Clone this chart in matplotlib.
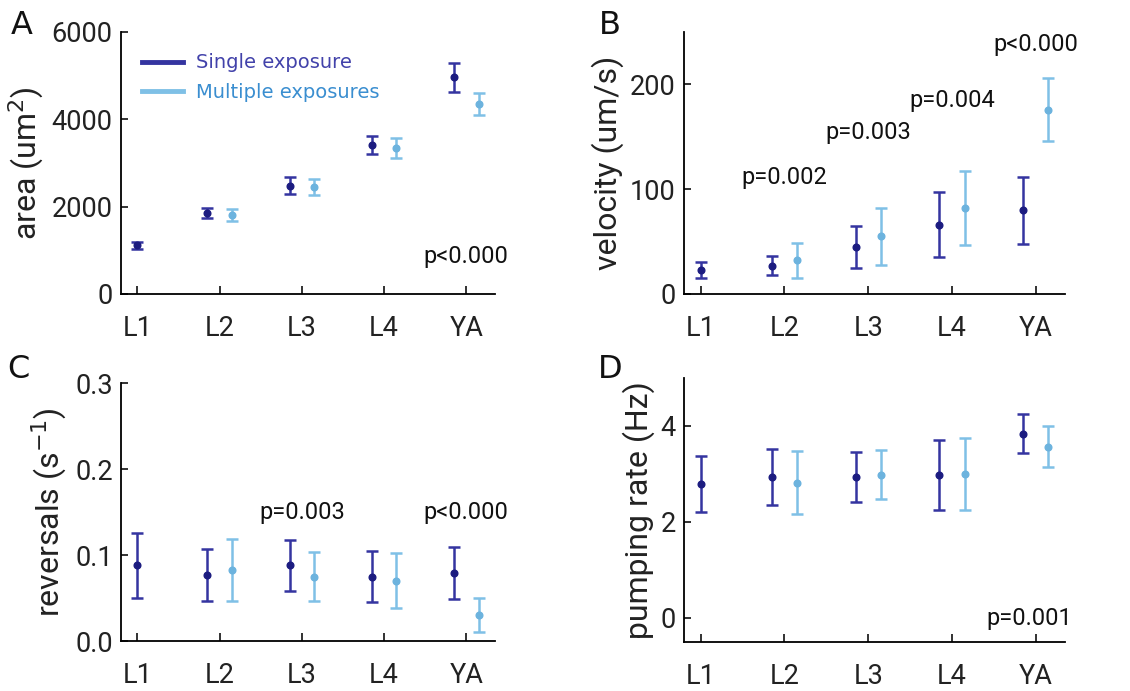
import numpy as np
import matplotlib
matplotlib.use("Agg")
import matplotlib.pyplot as plt
from matplotlib.lines import Line2D

plt.rcParams["font.family"] = ["Roboto", "DejaVu Sans"]

stages = ["L1", "L2", "L3", "L4", "YA"]

# A: area
area_single = [1120, 1850, 2480, 3410, 4960]
area_single_err = [80, 120, 190, 210, 330]
area_multi = [np.nan, 1810, 2450, 3350, 4350]
area_multi_err = [np.nan, 130, 180, 230, 260]

# B: velocity
vel_single = [23, 27, 45, 66, 80]
vel_single_err = [8, 9, 20, 31, 32]
vel_multi = [np.nan, 32, 55, 82, 176]
vel_multi_err = [np.nan, 17, 27, 35, 30]

# C: reversals
rev_single = [0.088, 0.077, 0.088, 0.075, 0.079]
rev_single_err = [0.0375, 0.030, 0.030, 0.030, 0.030]
rev_multi = [np.nan, 0.083, 0.075, 0.070, 0.030]
rev_multi_err = [np.nan, 0.036, 0.029, 0.032, 0.020]

# D: pumping rate
pump_single = [2.79, 2.94, 2.93, 2.98, 3.84]
pump_single_err = [0.58, 0.585, 0.52, 0.73, 0.41]
pump_multi = [np.nan, 2.82, 2.98, 3.00, 3.57]
pump_multi_err = [np.nan, 0.65, 0.51, 0.74, 0.42]

pvals_A = [("p<0.000", 4, 850)]
pvals_B = [("p=0.002", 1, 111), ("p=0.003", 2, 154), ("p=0.004", 3, 185), ("p<0.000", 4, 238)]
pvals_C = [("p=0.003", 2, 0.15), ("p<0.000", 4, 0.15)]
pvals_D = [("p=0.001", 3.92, 0.0)]

dark_line = "#3434a0"
dark_dot = "#1c1c80"
light_line = "#7fc0e6"
light_dot = "#6cb3de"

fig = plt.figure(figsize=(11.3, 6.91), dpi=100)
W, H = 1130, 691


def make_ax(l, r, t, b):
    return fig.add_axes([l / W, 1 - b / H, (r - l) / W, (b - t) / H])


axA = make_ax(121, 495, 32, 294)
axB = make_ax(684, 1065, 32, 294)
axC = make_ax(121, 495, 383, 641)
axD = make_ax(684, 1065, 378, 642)


def draw(ax, single, single_err, multi, multi_err, ylim, yticks, ylabel, pvals, ytl=None):
    x = np.arange(len(stages))
    xs = np.array([0 if i == 0 else i - 0.15 for i in x], dtype=float)
    xm = x + 0.15
    ax.errorbar(xs, single, yerr=single_err, fmt="none", ecolor=dark_line,
                elinewidth=1.8, capsize=4, capthick=1.8)
    ax.plot(xs, single, "o", color=dark_dot, ms=4.8, zorder=3)
    m = ~np.isnan(np.array(multi, dtype=float))
    ax.errorbar(xm[m], np.array(multi)[m], yerr=np.array(multi_err)[m], fmt="none",
                ecolor=light_line, elinewidth=1.8, capsize=4, capthick=1.8)
    ax.plot(xm[m], np.array(multi)[m], "o", color=light_dot, ms=4.8, zorder=3)
    ax.set_xlim(-0.2, 4.35)
    ax.set_ylim(*ylim)
    ax.set_xticks(x)
    ax.set_xticklabels(stages)
    ax.set_yticks(yticks)
    if ytl is not None:
        ax.set_yticklabels(ytl)
    ax.spines["top"].set_visible(False)
    ax.spines["right"].set_visible(False)
    ax.spines["left"].set_linewidth(1.3)
    ax.spines["bottom"].set_linewidth(1.3)
    ax.tick_params(axis="x", direction="in", length=6, width=1.3, pad=15, labelsize=19.5, colors="#222222")
    ax.tick_params(axis="y", direction="in", length=5, width=1.3, pad=6, labelsize=19.5, colors="#222222")
    ax.set_ylabel(ylabel, fontsize=23, color="#222222", labelpad=4)
    for txt, px, py in pvals:
        ax.text(px, py, txt, ha="center", va="center", fontsize=17, color="#111111")


draw(axA, area_single, area_single_err, area_multi, area_multi_err,
     (0, 6000), [0, 2000, 4000, 6000], "area (um$^2$)", pvals_A)
draw(axB, vel_single, vel_single_err, vel_multi, vel_multi_err,
     (0, 250), [0, 100, 200], "velocity (um/s)", pvals_B)
draw(axC, rev_single, rev_single_err, rev_multi, rev_multi_err,
     (0, 0.3), [0, 0.1, 0.2, 0.3], "reversals (s$^{-1}$)", pvals_C,
     ytl=["0.0", "0.1", "0.2", "0.3"])
draw(axD, pump_single, pump_single_err, pump_multi, pump_multi_err,
     (-0.5, 5), [0, 2, 4], "pumping rate (Hz)", pvals_D)

handles = [Line2D([0], [0], color=dark_line, lw=3.5),
           Line2D([0], [0], color=light_line, lw=3.5)]
axA.legend(handles, ["Single exposure", "Multiple exposures"], loc="upper left",
           bbox_to_anchor=(0.01, 0.985), frameon=False,
           handlelength=2.1, handletextpad=0.65, labelspacing=0.55,
           labelcolor=["#4242aa", "#3a8ed0"], prop={"family": "DejaVu Sans", "size": 14})

for lab, x, y in [("A", 11, 10), ("B", 599, 10), ("C", 7, 354), ("D", 598, 354)]:
    fig.text(x / W, 1 - y / H, lab, ha="left", va="top", fontsize=23, color="#111111",
             family="DejaVu Sans")

fig.savefig("out.png", dpi=100)
